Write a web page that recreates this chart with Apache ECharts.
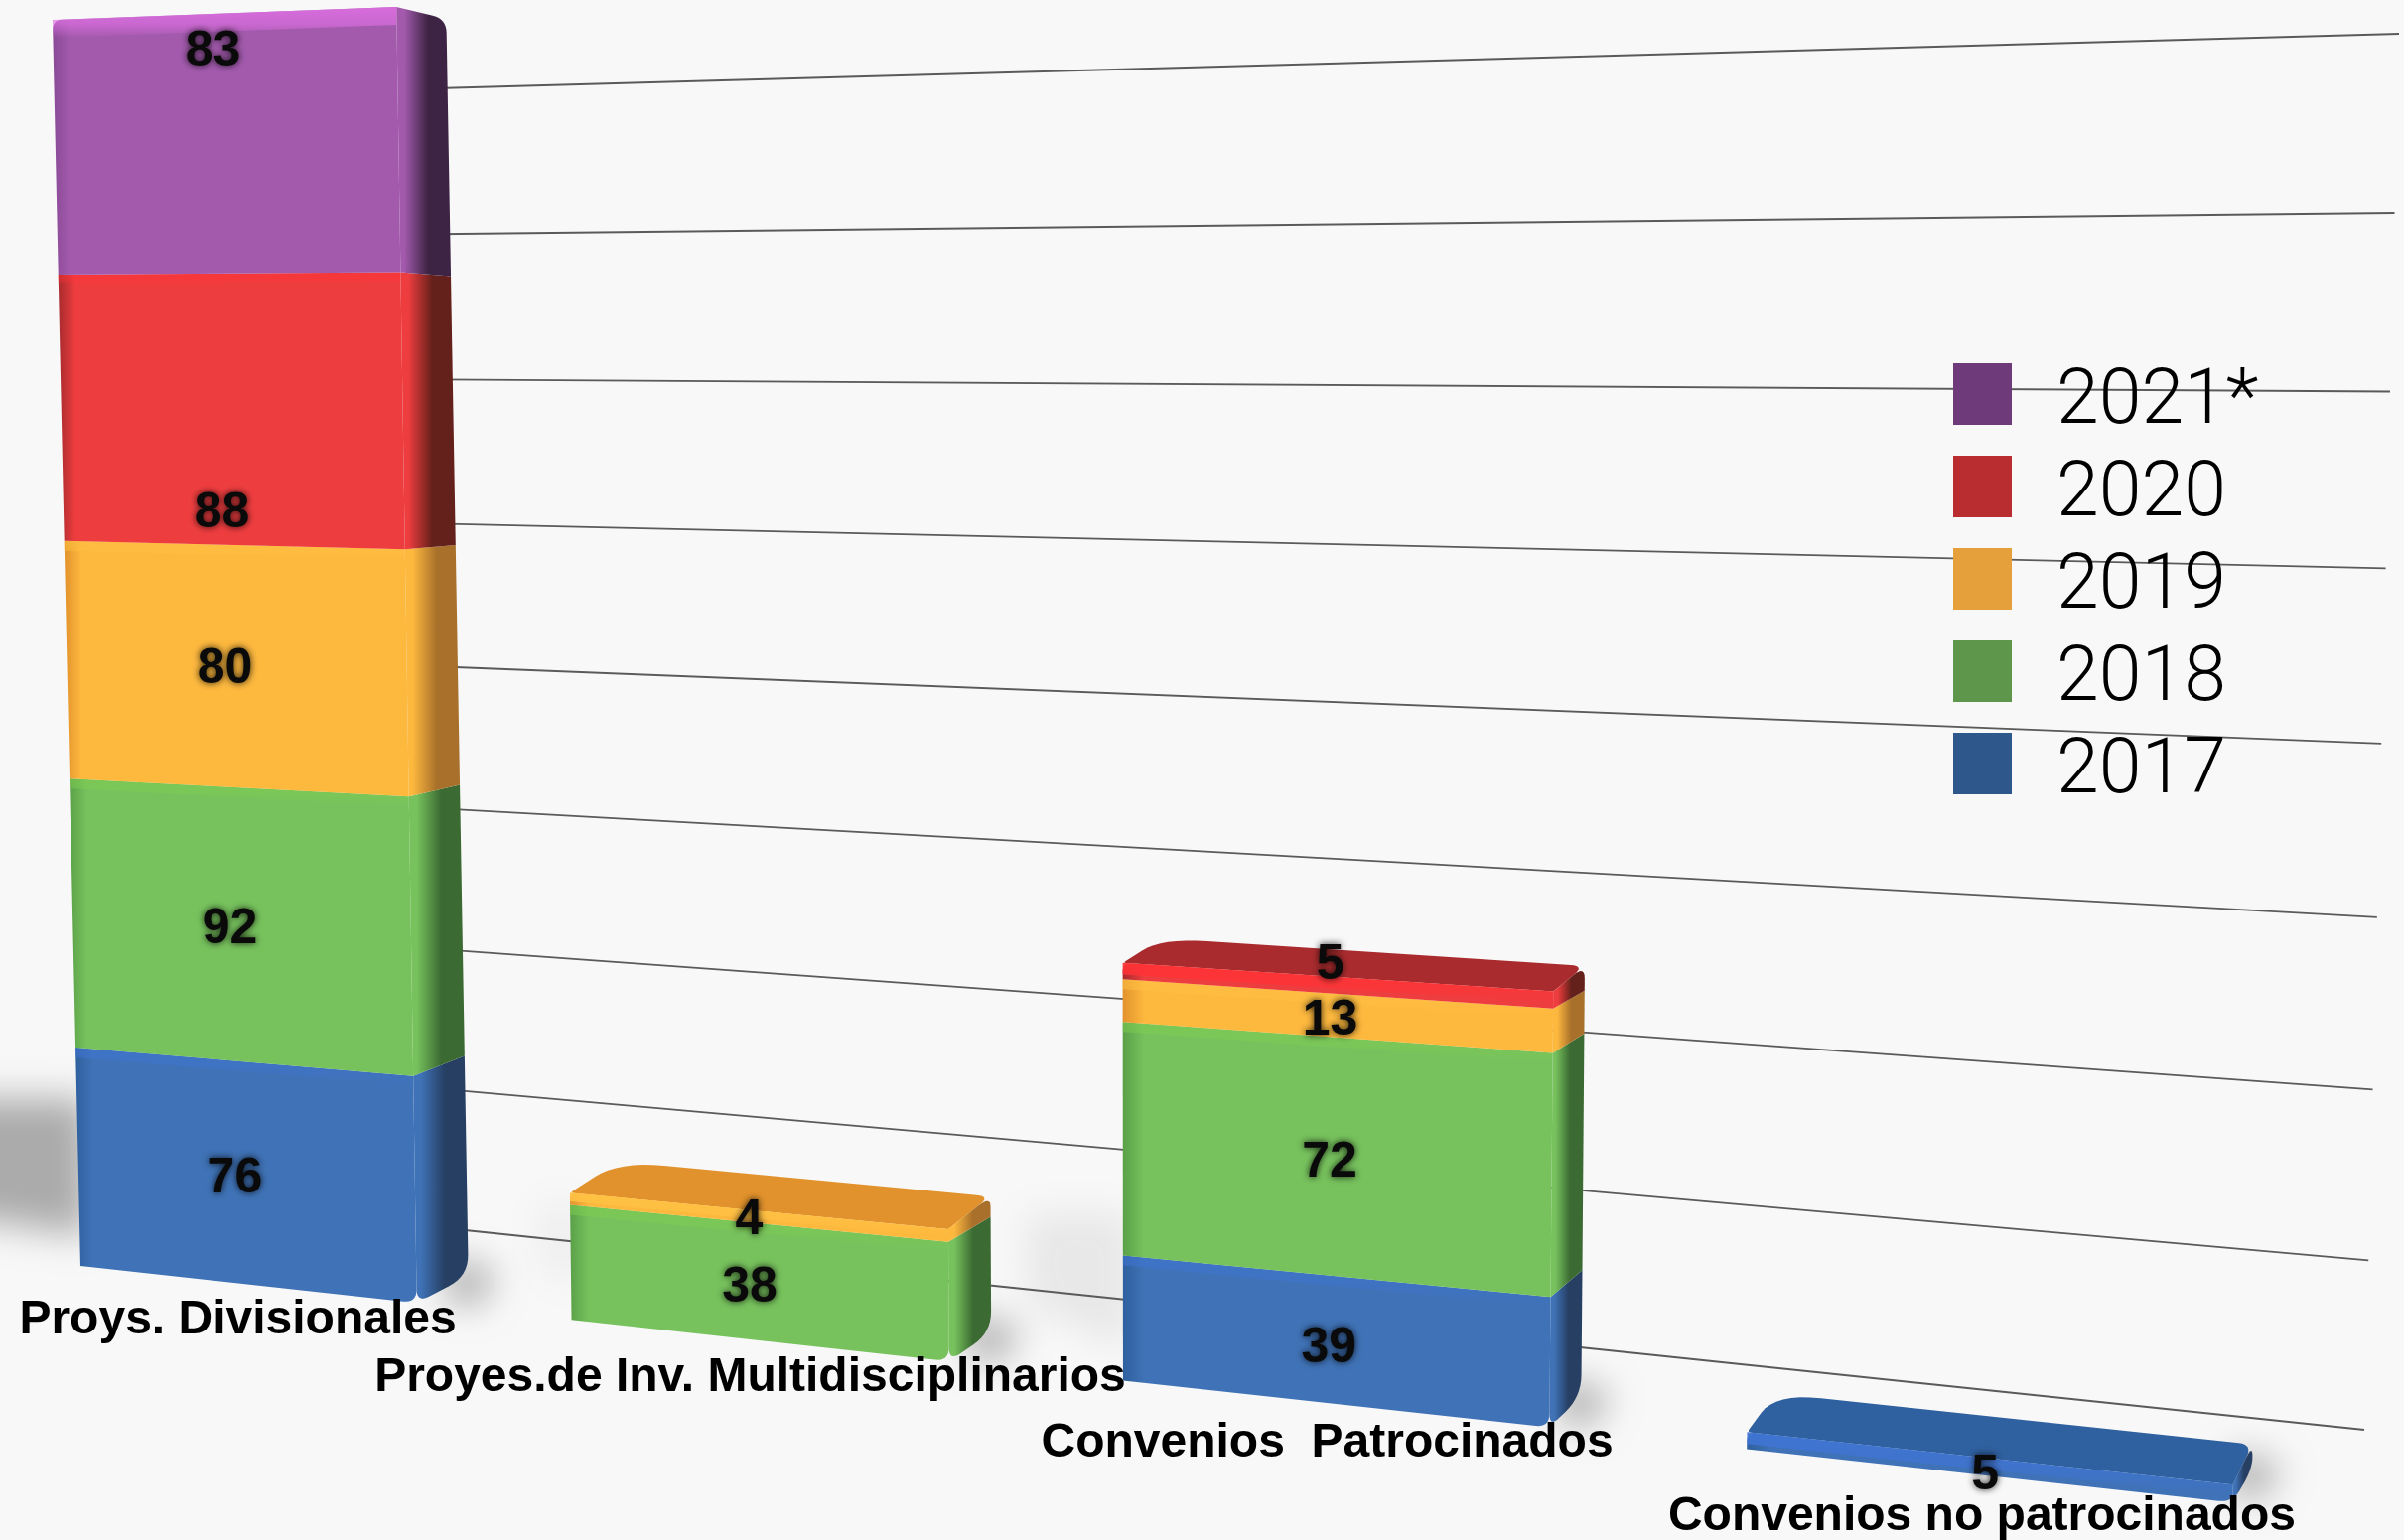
<!DOCTYPE html>
<html><head><meta charset="utf-8">
<style>html,body{margin:0;padding:0;background:#f8f8f8}#c{width:2421px;height:1551px}</style>
<script src="https://cdn.jsdelivr.net/npm/echarts@6/dist/echarts.min.js"></script>
</head><body><div id="c"></div>
<script>
// ---- data ----
const categories = ['Proys. Divisionales','Proyes.de Inv. Multidisciplinarios','Convenios  Patrocinados','Convenios no patrocinados'];
const years = ['2017','2018','2019','2020','2021*'];
const values2017 = [76, null, 39, 5];
const values2018 = [92, 38, 72, null];
const values2019 = [80, 4, 13, null];
const values2020 = [88, null, 5, null];
const values2021 = [83, null, null, null];
const gridValues = [50,100,150,200,250,300,350,400,450];
const seriesValues = [values2017, values2018, values2019, values2020, values2021];

// ---- styling ----
const legendColors = ['#2e578b','#5e974b','#e6a03b','#b92d30','#6e3a7a'];
const frontColors  = ['#3f72b6','#77c25d','#fdb83e','#ee3d3f','#a35aad'];
const edgeColors   = ['#3f74d4','#7fcc50','#ffc243','#ff3235','#e070e4'];
const sideColors   = ['#263f63','#3b6a32','#a8702a','#64201a','#3e2444'];
const capColors    = ['#2f609f','#5aa048','#e2922c','#a92b2e','#8a4a96'];
// fraction of each segment's height where its number sits, per series and category
const labelAnchor = [[.49,0,.46,.24],[.497,.48,.49,0],[.506,.45,.47,0],[.13,0,1.9,0],[.87,0,0,0]];

// ---- perspective of the front plane (band units, value) -> screen ----
const BAR_W = 0.697, LABEL_U = 0.335;
function H(u, v){
  const D = 1 - 0.0548*u - 9.7e-5*v;
  return [(463*u - 0.072*v - 0.02*u*v + 81)/D, (-18.5*u - 2.997*v + 1275)/D];
}
function back(p){
  const squeeze = 0.96 + 0.04*Math.min(1, p[1]/1300);
  return [p[0] + (59.35 - 0.0175*p[0])*squeeze, p[1] + 0.03*(410-p[1])];
}
function backCap(p){ const b=back(p); return [b[0], b[1]-8]; }
// wall holding the gridlines: unit square (s, t) -> quad
const wall = (function(){
  const q=[[440,1236],[2381,1440],[2416,34],[440,89]];
  const [x0,y0]=q[0],[x1,y1]=q[1],[x2,y2]=q[2],[x3,y3]=q[3];
  const dx1=x1-x2,dx2=x3-x2,dx3=x0-x1+x2-x3,dy1=y1-y2,dy2=y3-y2,dy3=y0-y1+y2-y3;
  const den=dx1*dy2-dx2*dy1;
  const g=(dx3*dy2-dx2*dy3)/den,h=(dx1*dy3-dx3*dy1)/den;
  const a=x1-x0+g*x1,b=x3-x0+h*x3,c=x0,d=y1-y0+g*y1,e=y3-y0+h*y3,f=y0;
  return (s,t)=>{t=t-0.016*t*(1-t);const w=g*s+h*t+1;return [(a*s+b*t+c)/w,(d*s+e*t+f)/w];};
})();

function toPlane(api, i, v){
  const c = api.coord([i, v]), o = api.coord([0, 0]);
  const band = api.size([1, 0])[0], unit = api.size([0, 1])[1];
  return [(c[0]-o[0])/band, (o[1]-c[1])/unit];
}
function rounded(pts, radii){
  const out=[], n=pts.length;
  const toward=(p,q,r)=>{const d=Math.hypot(q[0]-p[0],q[1]-p[1])||1,k=Math.min(r,d/2)/d;return [p[0]+(q[0]-p[0])*k,p[1]+(q[1]-p[1])*k];};
  pts.forEach((p,i)=>{
    const r=radii[i];
    if(!r){out.push(p);return;}
    const a=toward(p,pts[(i+n-1)%n],r), b=toward(p,pts[(i+1)%n],r);
    for(let t=0;t<=1.001;t+=0.125){
      const m=1-t;
      out.push([m*m*a[0]+2*m*t*p[0]+t*t*b[0], m*m*a[1]+2*m*t*p[1]+t*t*b[1]]);
    }
  });
  return out;
}
const lin=(x,y,x2,y2,stops)=>({type:'linear',x,y,x2,y2,colorStops:stops.map(s=>({offset:s[0],color:s[1]}))});
function hexA(hex,a){const n=parseInt(hex.slice(1),16);return `rgba(${n>>16},${(n>>8)&255},${n&255},${a})`;}

function stackBase(s,i){let b=0;for(let k=0;k<s;k++)b+=seriesValues[k][i]||0;return b;}
function isTop(s,i){for(let k=s+1;k<seriesValues.length;k++)if(seriesValues[k][i])return false;return true;}

function renderSegment(params, api){
  const s=params.seriesIndex-2, i=api.value(0), base=api.value(1), val=api.value(2);
  const top=base+val, kids=[];
  const pos=toPlane(api,i,base), pos2=toPlane(api,i,top);
  const a=H(pos[0],pos[1]), b=H(pos[0]+BAR_W,pos[1]), c=H(pos[0]+BAR_W,pos2[1]), d=H(pos[0],pos2[1]);
  const topSeg=isTop(s,i), botSeg=base===0;
  const capVisible = topSeg && back(c)[1]<c[1];
  if(capVisible){
    kids.push({type:'polygon',silent:true,shape:{points:rounded([d,c,backCap(c),backCap(d)],[4,0,14,46])},
      style:{fill:capColors[s]}});
  }
  const sideTop = capVisible ? backCap(c) : back(c);
  kids.push({type:'polygon',silent:true,shape:{points:rounded([b,back(b),sideTop,c],[botSeg?14:0,botSeg?22:0,topSeg?14:0,0])},
    style:{fill:lin(0,0,1,0,[[0,frontColors[s]],[.14,frontColors[s]],[.58,sideColors[s]],[1,sideColors[s]]])}});
  kids.push({type:'polygon',silent:true,shape:{points:rounded([a,b,c,d],[0,botSeg?14:0,0,topSeg?10:0])},
    style:{fill:lin(0,0,1,0,[[0,capColors[s]],[.05,frontColors[s]],[1,frontColors[s]]])}});
  const lead=topSeg?(capVisible?.95:.85):.55;
  const h=Math.min(topSeg&&!capVisible?18:(topSeg?14:10),(a[1]-d[1])*0.7);
  kids.push({type:'polygon',silent:true,shape:{points:[d,c,[c[0],c[1]+h],[d[0],d[1]+h]]},
    style:{fill:lin(0,0,0,1,[[0,hexA(edgeColors[s],lead)],[.55,hexA(edgeColors[s],lead*.75)],[1,hexA(edgeColors[s],0)]])}});
  return {type:'group',children:kids};
}

// only the blurred shadow of an off-screen shape reaches the picture
const OFF=4000;
function blurred(points,color,blur){
  return {type:'polygon',silent:true,shape:{points:points.map(p=>[p[0]-OFF,p[1]])},
    style:{fill:'#000',shadowBlur:blur,shadowColor:color,shadowOffsetX:OFF}};
}
function renderShadow(params, api){
  const i=api.value(0), total=api.value(1);
  const p=toPlane(api,i,0), A=H(p[0],p[1]), B=back(H(p[0]+BAR_W,p[1]));
  const k=Math.min(total,60), reach=total*0.75, strength=Math.pow(total/419,2), kids=[];
  kids.push(blurred([[A[0]+8,A[1]-30],[A[0]+8,A[1]-k*2.8],[A[0]-reach,A[1]-k*2.8],[A[0]-reach,A[1]-k*1.3]],
    `rgba(125,125,125,${(0.55*strength+0.08).toFixed(3)})`,36));
  kids.push(blurred([[B[0]-20,B[1]-20],[B[0]+30,B[1]-4],[B[0]+10,B[1]+30],[B[0]-24,B[1]+26]],'rgba(120,120,120,.55)',34));
  return {type:'group',children:kids};
}

const segmentSeries = years.map((y,s)=>({
  name:y, type:'custom', coordinateSystem:'cartesian2d', clip:false, z:3,
  itemStyle:{color:legendColors[s]}, encode:{x:0,y:1},
  renderItem:renderSegment,
  data:seriesValues[s].map((v,i)=>v?[i,stackBase(s,i),v]:null).filter(Boolean)
}));

const chart=echarts.init(document.getElementById('c'),null,{renderer:'canvas'});
chart.setOption({
  animation:false,
  backgroundColor:'#f8f8f8',
  grid:{left:0,right:0,top:0,bottom:0},
  xAxis:{type:'category',data:categories,show:false},
  yAxis:{type:'value',min:0,max:450,show:false},
  legend:{
    orient:'vertical',left:1967,top:366,padding:0,itemWidth:59,itemHeight:82,itemGap:11,
    // the swatch fills the upper part of the icon box, so its text centres a little below it
    icon:'path://M0,0H59V62H0Z M0,82L0,82',
    selectedMode:false,data:years.slice().reverse(),
    textStyle:{fontFamily:'Roboto',fontWeight:300,fontSize:77,lineHeight:62,color:'#000',padding:[0,0,0,40]}
  },
  series:[
    {name:'shadows',type:'custom',clip:false,silent:true,z:1,renderItem:renderShadow,encode:{x:0,y:1},
      data:categories.map((c,i)=>[i,seriesValues.reduce((t,a)=>t+(a[i]||0),0)])},
    {name:'gridlines',type:'custom',clip:false,silent:true,z:2,encode:{x:0,y:1},
      renderItem(params,api){
        const v=api.value(1), o=api.coord([0,0]), c=api.coord([0,v]), unit=api.size([0,1])[1];
        const t=((o[1]-c[1])/unit-50)/400;
        const p=wall(0,t), q=wall(1,t);
        return {type:'line',silent:true,shape:{x1:p[0],y1:p[1],x2:q[0],y2:q[1]},style:{stroke:'#5a5a5a',lineWidth:1.8}};
      },
      data:gridValues.map(v=>[0,v])},
    ...segmentSeries,
    {name:'valueLabels',type:'custom',clip:false,silent:true,z:5,encode:{x:0,y:1},
      renderItem(params,api){
        const i=api.value(0), v=api.value(1), num=api.value(2);
        const p=toPlane(api,i,v), q=H(p[0]+LABEL_U+0.006*i,p[1]);
        return {type:'text',silent:true,x:q[0]-2,y:q[1]+4,style:{text:String(num),fontFamily:'Liberation Sans',fontWeight:'bold',fontSize:50,
          fill:'#0a0a0a',align:'center',verticalAlign:'middle',textShadowBlur:7,textShadowColor:'rgba(0,0,0,.85)'}};
      },
      data:seriesValues.flatMap((a,s)=>a.map((v,i)=>v?[i,stackBase(s,i)+v*labelAnchor[s][i],v]:null)).filter(Boolean)},
    {name:'categoryLabels',type:'custom',clip:false,silent:true,z:6,encode:{x:0,y:1},
      renderItem(params,api){
        const i=api.value(0), p=toPlane(api,i,0), q=H(p[0]+LABEL_U+0.004*i,p[1]);
        return {type:'text',silent:true,x:q[0]-1,y:q[1]+37.5+1.5*i,style:{text:categories[i],fontFamily:'Liberation Sans',fontWeight:'bold',fontSize:48,
          fill:'#000',align:'center',verticalAlign:'middle'}};
      },
      data:categories.map((c,i)=>[i,0])}
  ]
});
</script></body></html>
